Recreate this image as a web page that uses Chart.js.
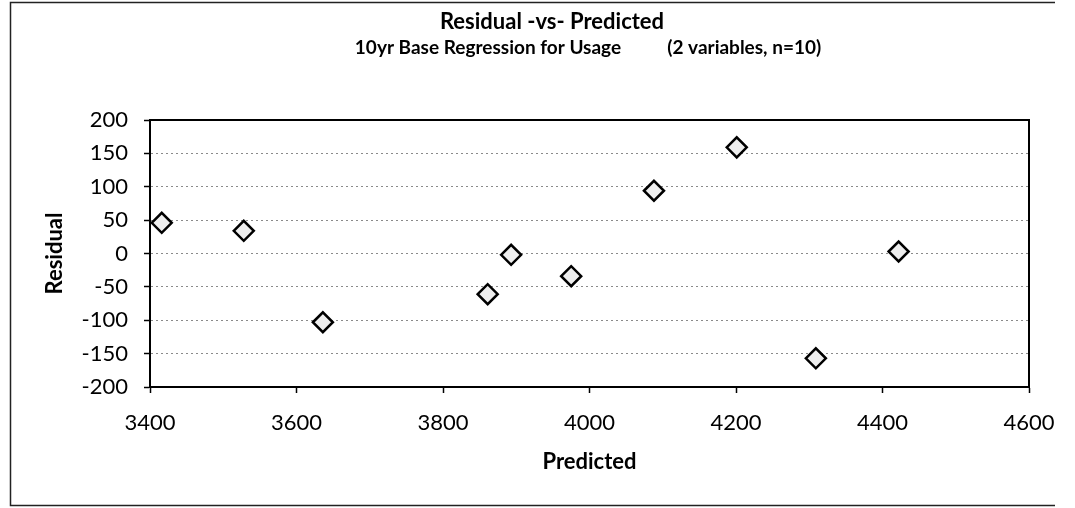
<!DOCTYPE html>
<html>
<head>
<meta charset="utf-8">
<script src="https://cdn.jsdelivr.net/npm/chart.js@4"></script>
<style>
  html, body { margin: 0; padding: 0; background: #fff; }
  #wrap { width: 1075px; height: 508px; }
</style>
</head>
<body>
<div id="wrap"><canvas id="residualChart" width="1075" height="508"></canvas></div>
<script>
const chartTitle = "Residual -vs- Predicted";
const chartSubtitle = "10yr Base Regression for Usage          (2 variables, n=10)";
const xAxisTitle = "Predicted";
const yAxisTitle = "Residual";

const predicted = [3416, 3528, 3636, 3861, 3893, 3975, 4088, 4201, 4309, 4422];
const residual = [46, 34, -103, -61, -2, -34, 94, 159, -157, 3];

const xTicks = { min: 3400, max: 4600, step: 200 };
const yTicks = { min: -200, max: 200, step: 50 };

const fontFamily = "Lato, 'Open Sans', sans-serif";

// outer frame, plot frame and the two title lines
const framePlugin = {
    id: "framePlugin",
    beforeDraw(chart) {
        const ctx = chart.ctx;
        ctx.save();
        ctx.strokeStyle = "#222";
        ctx.lineWidth = 1.5;
        ctx.beginPath();
        ctx.moveTo(1055, 2.5);
        ctx.lineTo(10.5, 2.5);
        ctx.lineTo(10.5, 505.5);
        ctx.lineTo(1055, 505.5);
        ctx.stroke();
        ctx.restore();
    },
    afterDraw(chart) {
        const ctx = chart.ctx;
        const area = chart.chartArea;
        ctx.save();
        ctx.strokeStyle = "#000";
        ctx.lineWidth = 2;
        ctx.strokeRect(area.left, area.top, area.right - area.left, area.bottom - area.top);

        ctx.fillStyle = "#000";
        ctx.textAlign = "center";
        ctx.textBaseline = "middle";
        ctx.font = `bold 22px ${fontFamily}`;
        ctx.fillText(chartTitle, 552, 22);
        ctx.font = `bold 19px ${fontFamily}`;
        ctx.fillText(chartSubtitle, 588, 48);
        ctx.restore();
    },
};

const points = predicted.map((x, i) => ({ x: x, y: residual[i] }));

const plainNumber = (value) => String(value);

new Chart(document.getElementById("residualChart"), {
    type: "scatter",
    data: {
        datasets: [
            {
                label: yAxisTitle,
                data: points,
                pointStyle: "rectRot",
                pointRadius: 10,
                pointHoverRadius: 10,
                pointBackgroundColor: "#eeeeee",
                pointBorderColor: "#000",
                pointBorderWidth: 2.5,
            },
        ],
    },
    options: {
        responsive: false,
        animation: false,
        layout: {
            padding: { left: 42, right: 46, top: 120, bottom: 33 },
        },
        plugins: {
            legend: { display: false },
            title: { display: false },
            tooltip: { enabled: false },
        },
        scales: {
            x: {
                type: "linear",
                min: xTicks.min,
                max: xTicks.max,
                ticks: {
                    stepSize: xTicks.step,
                    callback: plainNumber,
                    color: "#000",
                    padding: 17,
                    font: { family: fontFamily, size: 22 },
                },
                grid: {
                    drawOnChartArea: false,
                    drawTicks: true,
                    tickLength: 6,
                    tickColor: "#000",
                    tickWidth: 1.5,
                },
                border: { display: true, color: "#000", width: 2 },
                title: {
                    display: true,
                    text: xAxisTitle,
                    color: "#000",
                    padding: { top: 0, bottom: 0 },
                    font: { family: fontFamily, size: 22, weight: "bold" },
                },
                afterFit(scale) {
                    scale.height = 88;
                },
            },
            y: {
                type: "linear",
                min: yTicks.min,
                max: yTicks.max,
                ticks: {
                    stepSize: yTicks.step,
                    callback: plainNumber,
                    color: "#000",
                    padding: 16,
                    font: { family: fontFamily, size: 22 },
                },
                grid: {
                    color: "#8a8a8a",
                    lineWidth: 1,
                    drawTicks: true,
                    tickLength: 6,
                    tickColor: "#000",
                    tickWidth: 1.5,
                    tickBorderDash: [],
                },
                border: { display: true, color: "#000", width: 2, dash: [2, 3] },
                title: {
                    display: true,
                    text: yAxisTitle,
                    color: "#000",
                    padding: { top: 0, bottom: 0 },
                    font: { family: fontFamily, size: 22, weight: "bold" },
                },
                afterFit(scale) {
                    scale.width = 108;
                },
            },
        },
    },
    plugins: [framePlugin],
});
</script>
</body>
</html>
